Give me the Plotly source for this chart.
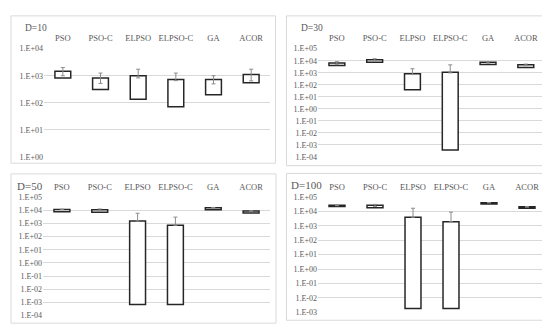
import plotly.graph_objects as go

W, H = 550, 326

categories = ["PSO", "PSO-C", "ELPSO", "ELPSO-C", "GA", "ACOR"]
panel_titles = ["D=10", "D=30", "D=50", "D=100"]

# D=10
d10_low = [830, 310, 135, 72, 200, 550]
d10_high = [1450, 830, 1000, 720, 720, 1110]
d10_err_plus = [550, 420, 740, 530, 280, 630]
d10_err_minus = [450, 310, 170, 60, 220, 465]

# D=30
d30_low = [3950, 7300, 38, 3.7e-4, 4750, 2700]
d30_high = [6500, 12000, 830, 1070, 7300, 4500]
d30_err_plus = [1800, 2500, 1310, 3430, 1000, 700]
d30_err_minus = [1800, 2500, 100, 100, 1000, 700]

# D=50
d50_low = [7750, 7000, 6.9e-4, 6.9e-4, 10900, 6200]
d50_high = [11600, 10900, 1520, 720, 15300, 8700]
d50_err_plus = [600, 1600, 4380, 2280, 500, 400]
d50_err_minus = [600, 1600, 0, 0, 500, 400]

# D=100
d100_low = [21800, 17800, 1.8e-3, 1.8e-3, 33100, 16700]
d100_high = [26700, 26700, 3930, 1890, 40500, 20800]
d100_err_plus = [1500, 4300, 12770, 7080, 1000, 1000]
d100_err_minus = [1500, 4300, 0, 0, 1000, 1000]

# tick label exponents per panel
d10_exps = [0, 1, 2, 3, 4]
d30_exps = [-4, -3, -2, -1, 0, 1, 2, 3, 4, 5]
d50_exps = [-4, -3, -2, -1, 0, 1, 2, 3, 4, 5]
d100_exps = [-3, -2, -1, 0, 1, 2, 3, 4, 5]


def lab(e):
    return "1.E%s%02d" % ("+" if e >= 0 else "-", abs(e))


panels = [
    (d10_low, d10_high, d10_err_plus, d10_err_minus, d10_exps),
    (d30_low, d30_high, d30_err_plus, d30_err_minus, d30_exps),
    (d50_low, d50_high, d50_err_plus, d50_err_minus, d50_exps),
    (d100_low, d100_high, d100_err_plus, d100_err_minus, d100_exps),
]

# layout geometry in pixels: (x_left, x_right, y_top_px, y_bottom_px)
geom = [
    (36, 262, 37.7, 149),
    (310, 536.7, 37.7, 149),
    (35, 262, 190.3, 312.3),
    (310, 538, 190.3, 308.7),
]
title_pos = [(15, 16, 9.5), (291, 16, 9.5), (7, 179, 11), (281, 178, 11)]
borders = [
    (3, 267.5, 4, 155.5),
    (278.5, 544, 4, 158),
    (3, 268, 166.5, 320),
    (278.5, 544, 166, 317),
]

TXT = "#595959"
FONT = "Liberation Serif"

fig = go.Figure()
layout = dict(
    width=W, height=H, margin=dict(l=0, r=0, t=0, b=0),
    paper_bgcolor="white", plot_bgcolor="white", showlegend=False,
    font=dict(family=FONT, color=TXT, size=8),
    shapes=[], annotations=[],
)

for i, (low, high, ep, em, exps) in enumerate(panels):
    n = "" if i == 0 else str(i + 1)
    xa, ya = "x" + n, "y" + n
    size = [h - l for h, l in zip(high, low)]
    fig.add_trace(go.Bar(
        x=categories, y=size, base=low, xaxis=xa, yaxis=ya,
        marker=dict(color="white", line=dict(color="#262626", width=1.5)),
        width=0.42,
    ))
    fig.add_trace(go.Scatter(
        x=categories, y=high, xaxis=xa, yaxis=ya, mode="markers",
        marker=dict(size=1, color="rgba(0,0,0,0)"),
        error_y=dict(type="data", symmetric=False, array=ep, arrayminus=em,
                     color="#8c8c8c", thickness=1, width=2),
    ))
    xl, xr, yt, yb = geom[i]
    layout["xaxis" + n] = dict(
        domain=[xl / W, xr / W], anchor=ya, type="category", side="top",
        range=[-0.5, 5.5], showgrid=False, showline=False, zeroline=False,
        ticks="outside", ticklen=3, tickcolor="rgba(0,0,0,0)",
        tickfont=dict(family=FONT, size=8.5, color=TXT), fixedrange=True,
    )
    layout["yaxis" + n] = dict(
        domain=[1 - yb / H, 1 - yt / H], anchor=xa, type="log",
        range=[exps[0], exps[-1]],
        tickvals=[10.0 ** e for e in exps], ticktext=[lab(e) for e in exps],
        showgrid=True, gridcolor="#d9d9d9", gridwidth=1, zeroline=False,
        showline=False, ticks="", tickfont=dict(family=FONT, size=8, color=TXT),
    )
    bx0, bx1, by0, by1 = borders[i]
    layout["shapes"].append(dict(
        type="rect", xref="paper", yref="paper",
        x0=bx0 / W, x1=bx1 / W, y0=1 - by1 / H, y1=1 - by0 / H,
        line=dict(color="#d9d9d9", width=1), layer="below",
    ))
    tx, ty, ts = title_pos[i]
    layout["annotations"].append(dict(
        text=panel_titles[i], xref="paper", yref="paper",
        x=tx / W, y=1 - ty / H, xanchor="left", yanchor="middle",
        showarrow=False, font=dict(family=FONT, size=ts, color=TXT),
    ))

fig.update_layout(**layout)
fig.write_html("out.html")
